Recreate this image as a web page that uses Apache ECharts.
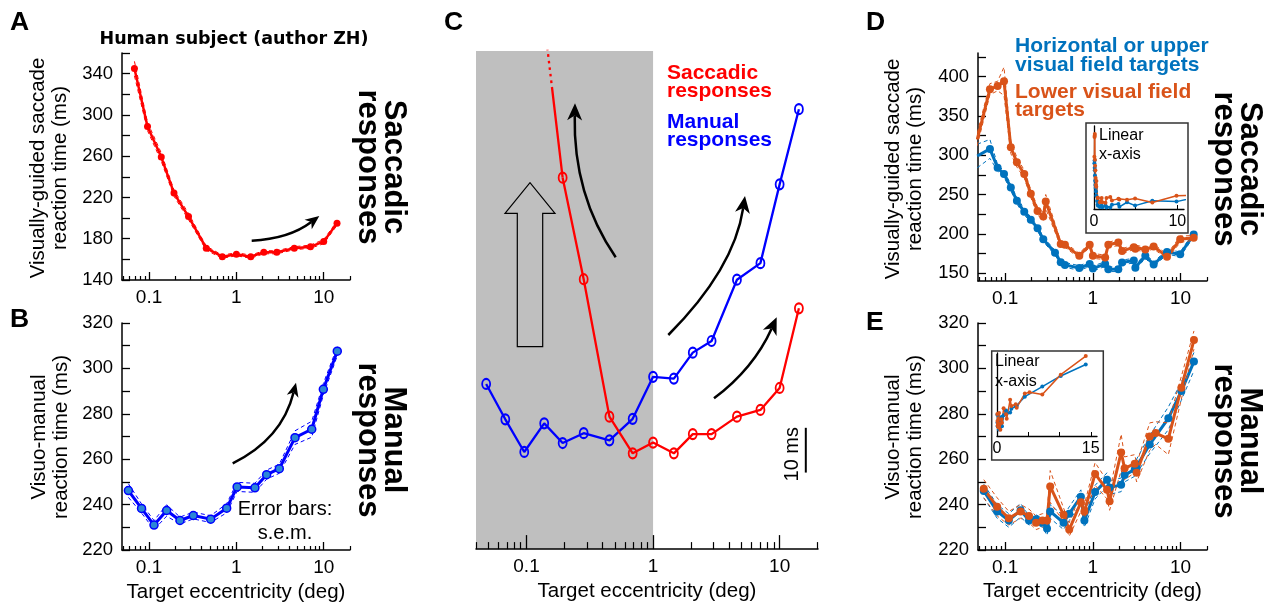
<!DOCTYPE html>
<html><head><meta charset="utf-8">
<script src="https://cdn.jsdelivr.net/npm/echarts@6/dist/echarts.min.js"></script>
<style>html,body{margin:0;padding:0;background:#fff}#c{width:1273px;height:607px}</style>
</head><body><div id="c"></div>
<script>
// ---------------- DATA ----------------
// Panel A / C : eccentricities (deg) and saccadic RT (ms), first ecc only used by manual data
const ecc = [0.048, 0.068, 0.096, 0.138, 0.193, 0.283, 0.452, 0.69, 1.0, 1.46, 2.06, 2.9, 4.6, 7.05, 10, 14.2];
const saccadeRT = [344.9, 288.8, 259.1, 224.2, 201.5, 170.8, 162.6, 165.0, 162.6, 166.9, 166.9, 170.8, 172.3, 177.2, 195.0];
const saccadeSEM = [7, 4, 4, 3, 3, 2, 1.5, 1.5, 1.5, 1.5, 1.5, 1.5, 1.5, 2, 2];
// Panel B : eccentricities and manual RT
const eccB = [0.058, 0.082, 0.114, 0.159, 0.226, 0.321, 0.508, 0.774, 1.02, 1.63, 2.22, 3.1, 4.69, 7.29, 9.9, 14.3];
const manualRT = [246.2, 238.3, 231.0, 237.4, 233.0, 235.2, 233.6, 238.4, 247.8, 247.4, 253.2, 255.8, 269.5, 273.2, 290.8, 307.6];
const manualSEM = [3, 2, 2, 2.5, 1.5, 1.5, 1.5, 2, 2, 2, 2, 2, 3, 3.5, 2.5, 2];
// Panel D : saccades split by visual field
const eccD = [0.048, 0.067, 0.082, 0.097, 0.116, 0.136, 0.165, 0.196, 0.234, 0.272, 0.29, 0.37, 0.43, 0.48, 0.70, 0.92, 1.0, 1.38, 1.5, 1.95, 2.15, 2.93, 3.05, 3.96, 4.93, 7.0, 9.9, 14.1];
const lowerD = [320, 384, 388, 394, 310, 291, 276, 251, 229, 222, 241, null, 187, 186, 172, 186, 172, 170, 186, 189, 178, 183, 181, 180, 184, 171, 193, 195];
const lowerDsem = [8, 7, 6, 18, 8, 6, 5, 5, 5, 5, 9, null, 3, 3, 3, 3, 3, 3, 3, 4, 3, 3, 3, 3, 3, 3, 4, 3];
const upperD = [299, 308, 284, 276, 259, 242, 228, 218, 207, 193, null, 176, 164, 160.5, 156.5, 161.5, 156, 161.5, 155, 155, 163.5, 166, 157, 172, 161, 177, 174, 199];
const upperDsem = [15, 12, 4, 4, 4, 4, 4, 3, 3, 3, null, 3, 3, 3, 3, 3, 3, 3, 3, 3, 3, 3, 3, 3, 3, 3, 3, 3];
// Panel E : manual responses split by visual field
const eccE = [0.057, 0.081, 0.11, 0.15, 0.187, 0.225, 0.266, 0.30, 0.326, 0.463, 0.537, 0.73, 0.80, 1.06, 1.45, 1.55, 2.1, 2.3, 3.0, 3.15, 4.45, 5.2, 7.25, 10.2, 14.2];
const lowerE = [247, 239, 234, 237, 235, 232, 233, 233, 248, 235.5, 229, 241, 237, 253.5, 246.5, 241.5, 263, 256, 258, 254, 270, 271.5, 269, 291.5, 312.5];
const lowerEsem = [4, 4, 3, 3, 3, 3, 3, 3, 7, 3, 3, 4, 3, 5, 4, 4, 8, 5, 4, 4, 6, 5, 7, 5, 4];
const upperE = [246, 237, 233, 237.5, 233, 233.5, 232, 229.5, 237, 232, 236, 243.5, 233, 245.5, 251, 247.5, 248.7, 253, 255.5, 256, 266.5, null, 278, 290, 303];
const upperEsem = [3, 3, 3, 3, 2, 2, 2, 3, 3, 3, 3, 3, 3, 3, 3, 3, 3, 3, 3, 3, 4, null, 5, 4, 4];
// Panel C scale bar (ms)
const scaleBarX = 16.1, scaleBarFrom = 226.4, scaleBarMs = 10;
// Tick values / labels
const majorTicks = [0.1, 1, 10];
const majorLabels = ['0.1', '1', '10'];
const minorTicks = [0.05, 0.06, 0.07, 0.08, 0.09, 0.2, 0.3, 0.4, 0.5, 0.6, 0.7, 0.8, 0.9, 2, 3, 4, 5, 6, 7, 8, 9, 20];
const minorTicksC = [0.04].concat(minorTicks);
const yTicksA = [140, 160, 180, 200, 220, 240, 260, 280, 300, 320, 340, 360];
const yLabelsA = [140, 180, 220, 260, 300, 340];
const yTicksB = [220, 230, 240, 250, 260, 270, 280, 290, 300, 310, 320];
const yLabelsB = [220, 240, 260, 280, 300, 320];
const yTicksD = [150, 175, 200, 225, 250, 275, 300, 325, 350, 375, 400, 425];
const yLabelsD = [150, 200, 250, 300, 350, 400];
const insetDTicks = [0, 5, 10], insetDLabels = [0, 10];
const insetETicks = [0, 5, 10, 15], insetELabels = [0, 15];

// ---------------- STYLE HELPERS ----------------
const FONT = '"Liberation Sans", Arial, sans-serif';
const BLK = '#000';
const RED = '#ff0000', BLUE = '#0000ff', MBLUE = '#0072bd', MORANGE = '#d95319';
const zip = (xs, ys) => xs.map((x, i) => [x, ys[i] == null ? null : ys[i]]);
const add = (ys, es, s) => ys.map((y, i) => (y == null || es[i] == null) ? null : y + s * es[i]);

function logX(gridIndex, min, max, majLen, minLen, minors, name, nameGap, z) {
  const fmt = v => { const i = majorTicks.findIndex(t => Math.abs(t - v) / t < 1e-6); return i >= 0 ? majorLabels[i] : ''; };
  return [{
    type: 'log', logBase: 10, gridIndex, min, max, position: 'bottom', z: z || 0,
    axisLine: { show: true, onZero: false, lineStyle: { color: BLK, width: 1.5 } },
    axisTick: { show: true, inside: true, length: majLen, customValues: majorTicks, lineStyle: { color: BLK, width: 1.3 } },
    axisLabel: { show: true, customValues: majorTicks, formatter: fmt, margin: 8, color: BLK, fontFamily: FONT, fontSize: 19 },
    splitLine: { show: false }, minorTick: { show: false },
    name: name || '', nameLocation: 'middle', nameGap: nameGap || 30,
    nameTextStyle: { color: BLK, fontFamily: FONT, fontSize: 20.5 }
  }, {
    type: 'log', logBase: 10, gridIndex, min, max, position: 'bottom', z: z || 0,
    axisLine: { show: false, onZero: false },
    axisTick: { show: true, inside: true, length: minLen, customValues: minors, lineStyle: { color: BLK, width: 1.2 } },
    axisLabel: { show: false }, splitLine: { show: false }
  }];
}
function valY(gridIndex, min, max, ticks, labels, o) {
  o = o || {};
  return {
    type: 'value', gridIndex, min, max, z: o.z || 0, show: o.show !== false,
    axisLine: { show: true, onZero: false, lineStyle: { color: BLK, width: o.lw || 1.5 } },
    axisTick: { show: !!ticks, inside: true, length: 8, customValues: ticks || [], lineStyle: { color: BLK, width: 1.3 } },
    axisLabel: { show: !!labels, customValues: labels || [], margin: 9, color: BLK, fontFamily: FONT, fontSize: 18.5 },
    splitLine: { show: false }
  };
}
function linX(gridIndex, min, max, ticks, labels) {
  return {
    type: 'value', gridIndex, min, max, position: 'bottom', z: 6,
    axisLine: { show: true, onZero: false, lineStyle: { color: BLK, width: 1.3 } },
    axisTick: { show: true, inside: true, length: 4, customValues: ticks, lineStyle: { color: BLK, width: 1 } },
    axisLabel: { show: true, customValues: labels, margin: 5, color: BLK, fontFamily: FONT, fontSize: 16 },
    splitLine: { show: false }
  };
}
function line(xi, yi, data, color, o) {
  o = o || {};
  return {
    type: 'line', xAxisIndex: xi, yAxisIndex: yi, data, clip: true, connectNulls: true,
    z: o.z || 2, silent: true,
    symbol: o.symbol || 'none', symbolSize: o.size || 7,
    lineStyle: { color, width: o.width || 2, type: o.dash || 'solid' },
    itemStyle: { color: o.fill || color, borderColor: o.border || color, borderWidth: o.bw || 0 },
    markArea: o.markArea
  };
}
function withErr(xi, yi, xs, ys, es, color, o) {
  const d = o.dashW || 1;
  return [
    line(xi, yi, zip(xs, add(ys, es, 1)), color, { width: d, dash: [4, 3], z: o.z }),
    line(xi, yi, zip(xs, add(ys, es, -1)), color, { width: d, dash: [4, 3], z: o.z }),
    line(xi, yi, zip(xs, ys), color, Object.assign({ symbol: 'circle' }, o))
  ];
}

// ---------------- AXES ----------------
const xAxis = [].concat(
  logX(0, 0.049, 20, 8, 4, minorTicks),                                   // 0,1 A
  logX(1, 0.049, 20, 8, 4, minorTicks, 'Target eccentricity (deg)', 32),  // 2,3 B
  logX(2, 0.0399, 20.1, 14, 7, minorTicksC, 'Target eccentricity (deg)', 29, 3), // 4,5 C
  logX(3, 0.049, 20, 8, 4, minorTicks),                                   // 6,7 D
  logX(4, 0.049, 20, 8, 4, minorTicks, 'Target eccentricity (deg)', 31),  // 8,9 E
  [linX(5, 0, 10.8, insetDTicks, insetDLabels),                           // 10 D inset
   linX(6, 0, 16, insetETicks, insetELabels)]                             // 11 E inset
);
const yAxis = [
  valY(0, 140, 360, yTicksA, yLabelsA),             // 0 A
  valY(1, 220, 320, yTicksB, yLabelsB),             // 1 B
  valY(2, 209.3, 320.6, null, null, { show: false }),// 2 C manual
  valY(2, 141.2, 252.5, null, null, { show: false }),// 3 C saccade
  valY(3, 140, 430, yTicksD, yLabelsD),             // 4 D
  valY(4, 220, 320, yTicksB, yLabelsB),             // 5 E
  valY(5, 150, 420, null, null, { z: 6, lw: 1.3 }), // 6 D inset
  valY(6, 222, 316, null, null, { z: 6, lw: 1.3 })  // 7 E inset
];
const grid = [
  { left: 122, top: 53, width: 228, height: 227 },
  { left: 122, top: 323, width: 228, height: 227 },
  { left: 476, top: 51, width: 342, height: 501 },
  { left: 978, top: 53, width: 229, height: 228 },
  { left: 978, top: 323, width: 229, height: 227 },
  { left: 1094, top: 126, width: 90, height: 83 },
  { left: 997, top: 353, width: 100, height: 83 }
];

// ---------------- SERIES ----------------
const eccSac = ecc.slice(1);
const series = [];
// A
series.push(...withErr(0, 0, eccSac, saccadeRT, saccadeSEM, RED, { width: 2.5, size: 7 }));
// B
series.push(...withErr(2, 1, eccB, manualRT, manualSEM, BLUE, { width: 3, size: 8, fill: '#2b86d6', border: BLUE, bw: 1.5 }));
// C
series.push(line(4, 2, zip(ecc, manualRT), BLUE, {
  width: 2.3, symbol: 'circle', size: [8, 10], fill: 'rgba(0,0,0,0)', border: BLUE, bw: 2,
  markArea: { silent: true, itemStyle: { color: '#bfbfbf' }, data: [[{ xAxis: 0.0399 }, { xAxis: 1 }]] }
}));
const dotHead = []; for (let i = 0; i < 10; i++) dotHead.push(2.6, 4); dotHead.push(200, 1);
series.push(line(4, 3, zip(eccSac.slice(2, 4), saccadeRT.slice(2, 4)), RED, { width: 2.3, dash: dotHead }));
series.push(line(4, 3, zip(eccSac.slice(3), saccadeRT.slice(3)), RED, {
  width: 2.3, symbol: 'circle', size: [8, 10], fill: 'rgba(0,0,0,0)', border: RED, bw: 2
}));
series.push(line(4, 2, [[scaleBarX, scaleBarFrom], [scaleBarX, scaleBarFrom + scaleBarMs]], BLK, { width: 2 }));
// D
series.push(...withErr(6, 4, eccD, upperD, upperDsem, MBLUE, { width: 3, size: 8 }));
series.push(...withErr(6, 4, eccD, lowerD, lowerDsem, MORANGE, { width: 3, size: 8 }));
// E
series.push(...withErr(8, 5, eccE, upperE, upperEsem, MBLUE, { width: 3, size: 8 }));
series.push(...withErr(8, 5, eccE, lowerE, lowerEsem, MORANGE, { width: 3, size: 8 }));
// insets
series.push(line(10, 6, zip(eccD, upperD), MBLUE, { width: 1.5, symbol: 'circle', size: 4, z: 7 }));
series.push(line(10, 6, zip(eccD, lowerD), MORANGE, { width: 1.5, symbol: 'circle', size: 4, z: 7 }));
series.push(line(11, 7, zip(eccE, upperE), MBLUE, { width: 1.5, symbol: 'circle', size: 4, z: 7 }));
series.push(line(11, 7, zip(eccE, lowerE), MORANGE, { width: 1.5, symbol: 'circle', size: 4, z: 7 }));

// ---------------- ANNOTATIONS ----------------
const G = [];
const PI = Math.PI;
function T(x, y, text, size, o) {
  o = o || {};
  G.push({
    type: 'text', x, y, rotation: o.rot || 0, z: o.z || 40, silent: true,
    style: {
      text, fill: o.color || BLK, fontSize: size, fontWeight: o.bold ? 'bold' : 'normal',
      fontFamily: o.family || FONT, align: o.align || 'center', textAlign: o.align || 'center',
      verticalAlign: 'middle', textVerticalAlign: 'middle', lineHeight: o.lh || Math.round(size * 1.2)
    }
  });
}
function arrow(x1, y1, cx, cy, x2, y2, L, W, lw) {
  const dx = x2 - cx, dy = y2 - cy, len = Math.hypot(dx, dy), ux = dx / len, uy = dy / len, nx = -uy, ny = ux;
  const bx = x2 - ux * L, by = y2 - uy * L, mx = x2 - ux * L * 0.72, my = y2 - uy * L * 0.72;
  G.push({ type: 'bezierCurve', z: 30, silent: true, shape: { x1, y1, cpx1: cx, cpy1: cy, x2: mx, y2: my }, style: { stroke: BLK, lineWidth: lw, fill: null } });
  G.push({ type: 'polygon', z: 30, silent: true, shape: { points: [[x2, y2], [bx + nx * W, by + ny * W], [mx, my], [bx - nx * W, by - ny * W]] }, style: { fill: BLK } });
}
// inset boxes
G.push({ type: 'rect', z: 5, silent: true, shape: { x: 1086, y: 123, width: 102, height: 110 }, style: { fill: '#fff', stroke: '#333', lineWidth: 1.5 } });
G.push({ type: 'rect', z: 5, silent: true, shape: { x: 991.7, y: 351, width: 111.6, height: 109 }, style: { fill: '#fff', stroke: '#333', lineWidth: 1.5 } });
// hollow arrow in C
G.push({ type: 'polygon', z: 30, silent: true, shape: { points: [[517.3, 346.7], [517.3, 213.3], [505, 213.3], [530, 182.7], [555, 213.3], [542.7, 213.3], [542.7, 346.7]] }, style: { fill: 'none', stroke: BLK, lineWidth: 1.2 } });
// curved arrows
arrow(251.7, 240.7, 289, 239, 319.3, 216, 14, 6, 2.5);
arrow(232.7, 463.3, 282, 439, 296, 382.7, 14, 6, 2.5);
arrow(615.7, 257.3, 573, 195, 575, 103.3, 17, 7.5, 2.5);
arrow(668.3, 335, 734, 269, 745, 196, 17, 7.5, 2.5);
arrow(714, 398.3, 753.6, 368.6, 776.7, 317.3, 17, 7.5, 2.5);
// panel letters
T(10, 22.8, 'A', 26.5, { bold: true, align: 'left' });
T(10, 320, 'B', 26.5, { bold: true, align: 'left' });
T(444, 23, 'C', 26.5, { bold: true, align: 'left' });
T(866, 22.5, 'D', 26.5, { bold: true, align: 'left' });
T(866, 322.5, 'E', 26.5, { bold: true, align: 'left' });
// titles and labels
T(234, 39, 'Human subject (author ZH)', 17.5, { bold: true, family: '"DejaVu Sans", sans-serif' });
T(49.5, 168, 'Visually-guided saccade\nreaction time (ms)', 20.5, { rot: PI / 2, lh: 22 });
T(50.5, 437, 'Visuo-manual\nreaction time (ms)', 20.5, { rot: PI / 2, lh: 22 });
T(904.8, 169, 'Visually-guided saccade\nreaction time (ms)', 20.5, { rot: PI / 2, lh: 22 });
T(904.8, 437, 'Visuo-manual\nreaction time (ms)', 20.5, { rot: PI / 2, lh: 22 });
T(380.9, 167, 'Saccadic\nresponses', 31, { bold: true, rot: -PI / 2, lh: 26 });
T(380.4, 440, 'Manual\nresponses', 31, { bold: true, rot: -PI / 2, lh: 26 });
T(1237, 169, 'Saccadic\nresponses', 31, { bold: true, rot: -PI / 2, lh: 26 });
T(1237, 441, 'Manual\nresponses', 31, { bold: true, rot: -PI / 2, lh: 26 });
T(667, 82.2, 'Saccadic\nresponses', 21, { bold: true, align: 'left', color: RED, lh: 17.6 });
T(667, 131, 'Manual\nresponses', 21, { bold: true, align: 'left', color: BLUE, lh: 18 });
T(1015, 55.7, 'Horizontal or upper\nvisual field targets', 21, { bold: true, align: 'left', color: MBLUE, lh: 19.4 });
T(1015, 100.9, 'Lower visual field\ntargets', 21, { bold: true, align: 'left', color: MORANGE, lh: 18.3 });
T(285, 521.4, 'Error bars:\ns.e.m.', 20, { lh: 23.2 });
T(792.7, 454.2, '10 ms', 20, { rot: PI / 2 });
T(1099, 144.9, 'Linear\nx-axis', 16, { align: 'left', lh: 19.3, z: 50 });
T(995, 371.5, 'Linear\nx-axis', 16, { align: 'left', lh: 19.3, z: 50 });

const chart = echarts.init(document.getElementById('c'), null, { renderer: 'canvas' });
chart.setOption({
  backgroundColor: '#fff', animation: false,
  grid, xAxis, yAxis, series, graphic: { elements: G }
});
</script>
</body></html>
